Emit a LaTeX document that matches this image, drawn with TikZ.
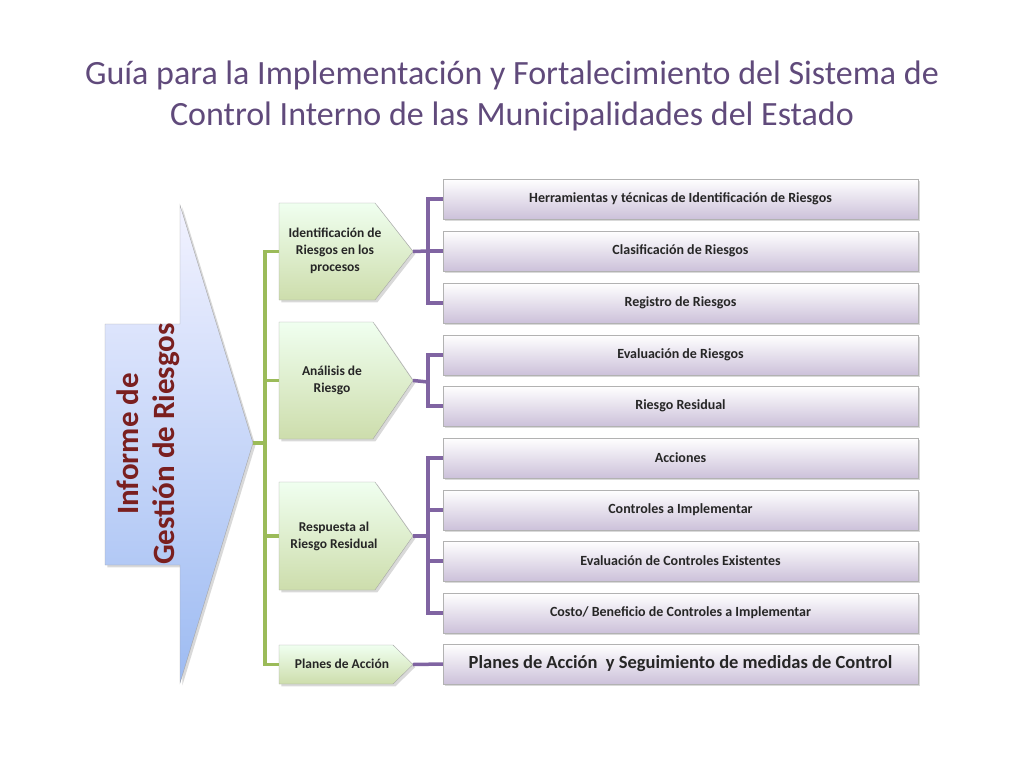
\documentclass[tikz,border=0pt]{standalone}
\usepackage{fontspec}
\setmainfont{Carlito}
\usetikzlibrary{shadows}
\definecolor{ttl}{HTML}{604A7B}
\definecolor{gline}{HTML}{9BBB59}
\definecolor{pline}{HTML}{8064A2}
\definecolor{bigt}{HTML}{7A1F1F}
\definecolor{bblue}{HTML}{9DBBF2}
\tikzset{
  pbox/.style={draw=gray!60, top color=white, bottom color=pline!40, minimum width=475pt, minimum height=40pt, font=\bfseries\fontsize{14}{16}\selectfont, text=black!85, drop shadow={opacity=0.3}},
  gedge/.style={draw=gline, line width=3.5pt},
  pedge/.style={draw=pline, line width=3.5pt},
  gfill/.style={draw=gray!70, top color=green!6!white, bottom color=gline!50, drop shadow={opacity=0.3}},
  gtxt/.style={font=\bfseries\fontsize{13.5}{17}\selectfont, align=center, text=black!85}
}
\begin{document}
\begin{tikzpicture}[x=1pt,y=-1pt]
\useasboundingbox (0,0) rectangle (1024,768);
\node[text=ttl, align=center, font=\fontsize{34}{41}\selectfont] (title) at (512,96) {Guía para la Implementación y Fortalecimiento del Sistema de\\Control Interno de las Municipalidades del Estado};
% big arrow
\path[draw=gray!70, top color=blue!5!white, bottom color=bblue, drop shadow={opacity=0.3}] (105,324) -- (180,324) -- (180,205) -- (253,443) -- (180,683) -- (180,565) -- (105,565) -- cycle;
\node[rotate=90, text=bigt, align=center, font=\bfseries\fontsize{31}{36}\selectfont] (inf) at (148,444) {Informe de\\Gestión de Riesgos};
\coordinate (atip) at (253,443);
% green pentagons
\foreach \n/\t/\b/\d in {g1/203/300/38, g2/322/439/40, g3/482/590/38, g4/645/684/20}{
  \path[gfill] (279,\t) -- (413-\d,\t) -- (413,{(\t+\b)/2}) -- (413-\d,\b) -- (279,\b) -- cycle;
  \coordinate (\n) at (279,{(\t+\b)/2});
  \coordinate (\n t) at (413,{(\t+\b)/2});
}
\node[gtxt] (tg1) at (335,251) {Identificación de\\Riesgos en los\\procesos};
\node[gtxt] (tg2) at (332,380) {Análisis de\\Riesgo};
\node[gtxt] (tg3) at (334,536) {Respuesta al\\Riesgo Residual};
\node[gtxt] (tg4) at (342,664) {Planes de Acción};
% green tree
\coordinate (gm) at (265,443);
\draw[gedge] (atip) -- (gm);
\draw[gedge] (g1) -| (gm) |- (g4);
\draw[gedge] (gm) |- (g2);
\draw[gedge] (gm) |- (g3);
% purple boxes
\foreach \n/\y/\t in {p1/199/{Herramientas y técnicas de Identificación de Riesgos}, p2/251/{Clasificación de Riesgos}, p3/303/{Registro de Riesgos}, p4/355/{Evaluación de Riesgos}, p5/406/{Riesgo Residual}, p6/458/{Acciones}, p7/510/{Controles a Implementar}, p8/561/{Evaluación de Controles Existentes}, p9/613/{Costo/ Beneficio de Controles a Implementar}}{
  \node[pbox] (\n) at (680.5,\y) {\t};
}
\node[pbox, font=\bfseries\fontsize{18.5}{21}\selectfont] (p10) at (680.5,664) {Planes de Acción~ y Seguimiento de medidas de Control};
% purple trees
\coordinate (j1) at (428,251);
\draw[pedge] (g1t) -- (j1);
\draw[pedge] (p1.west) -| (j1) |- (p3.west);
\draw[pedge] (j1) -- (p2.west);
\coordinate (j2) at (428,382);
\draw[pedge] (g2t) -- (j2);
\draw[pedge] (p4.west) -| (j2) |- (p5.west);
\coordinate (j3) at (428,536);
\draw[pedge] (g3t) -- (j3);
\draw[pedge] (p6.west) -| (j3) |- (p9.west);
\draw[pedge] (j3) |- (p7.west);
\draw[pedge] (j3) |- (p8.west);
\draw[pedge] (g4t) -- (p10.west);
\end{tikzpicture}
\end{document}
